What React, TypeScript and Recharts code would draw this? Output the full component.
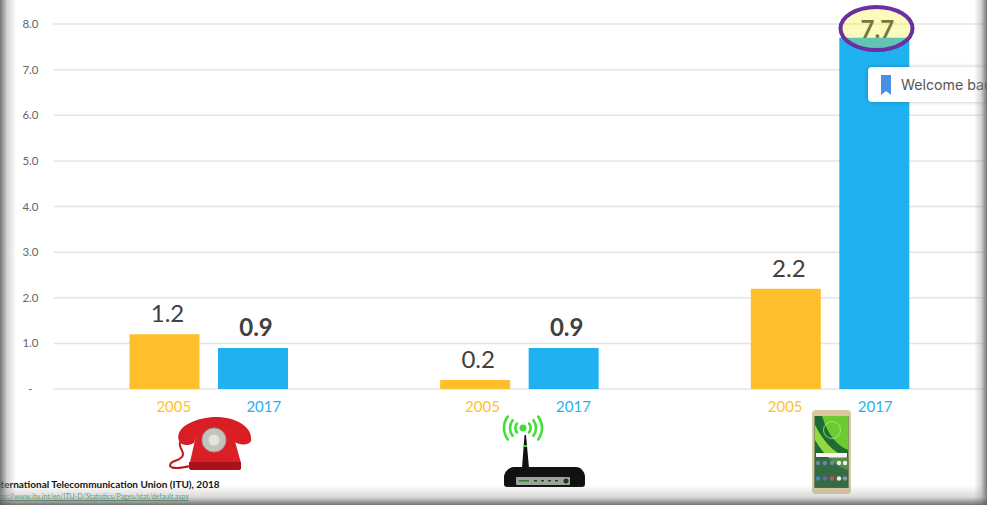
// App.tsx
import React from 'react';
import {
    BarChart, Bar, XAxis, YAxis, CartesianGrid, LabelList,
} from 'recharts';

const CATEGORIES = ['Fixed telephone', 'Fixed broadband', 'Mobile cellular'];
const VALUES_2005 = [1.2, 0.2, 2.2];
const VALUES_2017 = [0.9, 0.9, 7.7];
const Y_TICKS = [0, 1, 2, 3, 4, 5, 6, 7, 8];
const YEARS = ['2005', '2017'];

const YEAR_COLORS = ['#FFBF2D', '#1FB1F0'];
// year labels do not sit under the bars exactly, so each group has its own offsets
const YEAR_OFFSETS = [[-35, 55], [-37, 54], [-45, 45]];

const FONT = 'Lato, sans-serif';

const data = CATEGORIES.map((name, i) => ({
    name,
    y2005: VALUES_2005[i],
    y2017: VALUES_2017[i],
}));

const YearTick = ({ y, payload, index }: any) => (
    <g>
        {YEARS.map((year, i) => (
            <text
                key={year}
                x={payload.coordinate + YEAR_OFFSETS[index][i]}
                y={y + 15}
                textAnchor="middle"
                fontFamily={FONT}
                fontSize={15}
                fill={YEAR_COLORS[i]}
            >
                {year}
            </text>
        ))}
    </g>
);

// value label above a bar; the tallest bar's label is held down inside the plot
const valueLabel = (weight: number) => ({ x, y, width, value }: any) => (
    <text
        x={x + width / 2 + 3}
        y={Math.max(y - 12, 38)}
        textAnchor="middle"
        fontFamily={FONT}
        fontSize={24}
        fontWeight={weight}
        fill="#404040"
    >
        {Number(value).toFixed(1)}
    </text>
);

const Icons = () => (
    <svg width={987} height={505} style={{ position: 'absolute', left: 0, top: 0, filter: 'blur(0.6px)' }}>
        {/* telephone */}
        <path d="M179 441 C174 426 198 417 216 417 C236 417 253 427 251 441 C249 446 238 445 233 441 L231 431 L198 431 L194 443 C189 446 181 446 179 441 Z" fill="#D81E24" />
        <path d="M198 427 L231 427 L241 463 L241 468 C241 469 240 470 238 470 L192 470 C190 470 189 469 189 467 L190 462 Z" fill="#DB1F26" />
        <path d="M189 462 L241 462 L241 468 C241 469 240 470 238 470 L192 470 C190 470 189 469 189 467 Z" fill="#A81218" />
        <circle cx={214} cy={440} r={12} fill="#C4C4BE" stroke="#9E9E98" strokeWidth={1} />
        <circle cx={214} cy={440} r={5.5} fill="#E4E4DE" />
        <path d="M180 442 C178 448 186 452 182 457 C178 462 170 460 170 466 C172 469 182 468 190 466" fill="none" stroke="#B9161C" strokeWidth={2} />

        {/* router */}
        <path d="M522 468 L524.5 435 L526 435 L529 468 Z" fill="#111" />
        <rect x={523.5} y={445} width={3.5} height={2} fill="#46DC3A" />
        <circle cx={523} cy={428} r={3.5} fill="#46DC3A" />
        {[7.5, 13, 19].map(r => (
            <g key={r} fill="none" stroke="#46DC3A" strokeWidth={2.6} strokeLinecap="round">
                <path d={`M${523 - r * 0.8} ${428 - r * 0.6} A${r} ${r} 0 0 0 ${523 - r * 0.8} ${428 + r * 0.6}`} />
                <path d={`M${523 + r * 0.8} ${428 - r * 0.6} A${r} ${r} 0 0 1 ${523 + r * 0.8} ${428 + r * 0.6}`} />
            </g>
        ))}
        <path d="M504 476 C505 471 510 467 514 467 L576 467 C581 467 585 472 585 477 L585 484 C585 486 584 487 582 487 L507 487 C505 487 504 486 504 484 Z" fill="#111" />
        <rect x={516} y={477} width={54} height={8} rx={1} fill="#9EA39C" />
        <rect x={519} y={480} width={10} height={1.5} fill="#2E7D32" />
        {[534, 541, 548, 555].map(x => (
            <rect key={x} x={x} y={480} width={3} height={1.5} fill="#244A24" />
        ))}
        <circle cx={566} cy={481} r={2.5} fill="#1B3B1B" />

        {/* smartphone */}
        <rect x={812} y={410} width={39} height={84} rx={4} fill="#DCC8A0" />
        <rect x={814.5} y={416} width={34} height={72} fill="#1F6B34" />
        <path d="M815 416 L848 416 L848 450 C838 446 828 436 822 416 Z" fill="#6CCB30" />
        <path d="M815 425 C823 440 832 452 848 458 L848 470 C833 466 821 450 815 440 Z" fill="#93D840" />
        <rect x={814.5} y={458} width={34} height={30} fill="#3D6B4A" opacity={0.7} />
        <circle cx={832} cy={430} r={8.5} fill="none" stroke="#B8E68C" strokeWidth={0.8} />
        <rect x={816} y={453} width={31} height={4} fill="#F5F5F5" />
        {[818, 825, 832, 839, 845].map(x => (
            <circle key={x} cx={x} cy={463} r={2.2} fill={x > 835 ? '#EEE' : '#6A89A8'} />
        ))}
        {[818, 825, 832, 839, 845].map((x, i) => (
            <circle key={x} cx={x} cy={478.5} r={2.2} fill={['#3F86C6', '#5A6FB0', '#C8553D', '#EEE', '#8A9AA8'][i]} />
        ))}
    </svg>
);

const Highlight = () => (
    <svg width={987} height={505} style={{ position: 'absolute', left: 0, top: 0 }}>
        <ellipse
            cx={876.5}
            cy={28.5}
            rx={36}
            ry={21.5}
            fill="rgba(248,239,45,0.31)"
            stroke="#6B2FA0"
            strokeWidth={4}
        />
    </svg>
);

const Popup = () => (
    <div
        style={{
            position: 'absolute', left: 868, top: 67, width: 140, height: 35,
            background: '#fff', borderRadius: 4, boxShadow: '0 0 4px rgba(0,0,0,0.25)',
            fontFamily: 'Inter, Roboto, sans-serif', fontSize: 14.2, color: '#555',
            lineHeight: '35px', whiteSpace: 'nowrap',
        }}
    >
        <svg width={12} height={22} style={{ position: 'absolute', left: 12, top: 7 }}>
            <path d="M1 1 L11 1 L11 21 L6 17 L1 21 Z" fill="#4A90E2" />
        </svg>
        <span style={{ position: 'absolute', left: 33, top: 0 }}>Welcome back</span>
    </div>
);

const Source = () => (
    <div style={{ position: 'absolute', left: 0, top: 0, width: 987, height: 505, overflow: 'hidden' }}>
        <div
            style={{
                position: 'absolute', left: -8, top: 478, fontFamily: FONT, fontSize: 10,
                fontWeight: 700, color: '#111', whiteSpace: 'nowrap',
            }}
        >
            International Telecommunication Union (ITU), 2018
        </div>
        <div
            style={{
                position: 'absolute', left: -8, top: 492, fontFamily: FONT, fontSize: 7,
                color: '#3FA66B', textDecoration: 'underline', whiteSpace: 'nowrap',
            }}
        >
            https://www.itu.int/en/ITU-D/Statistics/Pages/stat/default.aspx
        </div>
    </div>
);

const Vignette = () => (
    <>
        <div style={{
            position: 'absolute', left: 0, top: 0, width: 16, height: 505,
            background: 'linear-gradient(to right, rgba(90,90,90,0.85), rgba(150,150,150,0.4) 45%, rgba(255,255,255,0))',
        }} />
        <div style={{
            position: 'absolute', right: 0, top: 0, width: 13, height: 505,
            background: 'linear-gradient(to left, rgba(90,90,90,0.85), rgba(150,150,150,0.4) 45%, rgba(255,255,255,0))',
        }} />
        <div style={{
            position: 'absolute', left: 0, bottom: 0, width: 987, height: 20,
            background: 'linear-gradient(to top, rgba(90,90,90,0.85), rgba(150,150,150,0.35) 40%, rgba(255,255,255,0))',
        }} />
    </>
);

const App: React.FC = () => (
    <div style={{ position: 'absolute', left: 0, top: 0, width: 987, height: 505, overflow: 'hidden', background: '#fff' }}>
        <BarChart
            width={987}
            height={505}
            data={data}
            barSize={70}
            barGap={18.5}
            margin={{ top: 24, right: 1.5, bottom: 86, left: 0 }}
        >
            <CartesianGrid horizontal vertical={false} stroke="#E4E4E4" strokeWidth={1.5} />
            <XAxis
                dataKey="name"
                height={30}
                axisLine={false}
                tickLine={false}
                interval={0}
                tick={<YearTick />}
            />
            <YAxis
                width={53.5}
                domain={[0, 8]}
                ticks={Y_TICKS}
                axisLine={false}
                tickLine={false}
                tickSize={0}
                tickMargin={15}
                tickFormatter={(v: number) => (v === 0 ? '-\u00a0\u00a0' : v.toFixed(1))}
                tick={{ fontFamily: FONT, fontSize: 11.5, fill: '#666' }}
            />
            <Bar dataKey="y2005" fill={YEAR_COLORS[0]} isAnimationActive={false}>
                <LabelList dataKey="y2005" content={valueLabel(400)} />
            </Bar>
            <Bar dataKey="y2017" fill={YEAR_COLORS[1]} isAnimationActive={false}>
                <LabelList dataKey="y2017" content={valueLabel(700)} />
            </Bar>
        </BarChart>
        <Icons />
        <Highlight />
        <Popup />
        <Source />
        <Vignette />
    </div>
);

export default App;
